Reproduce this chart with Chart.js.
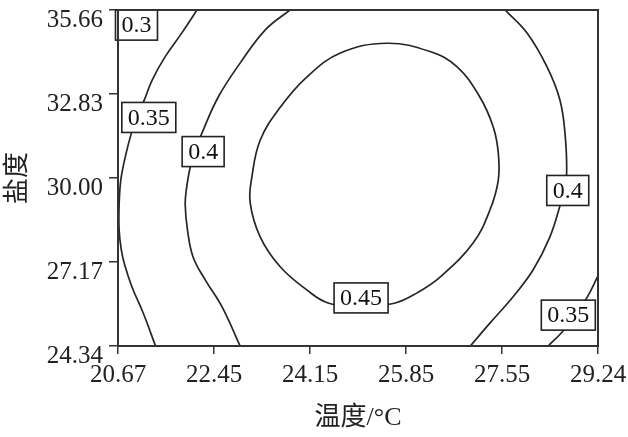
<!DOCTYPE html>
<html>
<head>
<meta charset="utf-8">
<script src="https://cdn.jsdelivr.net/npm/chart.js@4/dist/chart.umd.min.js"></script>
<style>
  html, body { margin: 0; padding: 0; background: #fff; }
  #wrap { width: 628px; height: 437px; }
</style>
</head>
<body>
<div id="wrap"><canvas id="c" width="628" height="437"></canvas></div>
<script>
// Axis ranges and tick labels
const X_MIN = 20.67, X_MAX = 29.24;
const Y_MIN = 24.34, Y_MAX = 35.66;
const xTickLabels = ['20.67', '22.45', '24.15', '25.85', '27.55', '29.24'];
const yTickLabels = ['24.34', '27.17', '30.00', '32.83', '35.66'];

// Contour lines: [temperature, salinity] pairs
const contour030 = [[20.67, 34.92], [20.85, 35.32], [21.01, 35.66]];
const contour035Left = [
  [22.08, 35.66], [21.81, 34.89], [21.51, 34.08], [21.28, 33.30], [21.14, 32.63],
  [21.01, 32.06], [20.91, 31.52], [20.80, 30.71], [20.72, 29.93], [20.69, 29.09],
  [20.69, 28.25], [20.73, 27.57], [20.79, 27.07], [20.92, 26.33], [21.12, 25.45],
  [21.34, 24.34]
];
const contour035Right = [[29.24, 26.70], [29.04, 25.96], [28.83, 25.38], [28.60, 24.81], [28.35, 24.34]];
const contour040Left = [
  [23.74, 35.66], [23.30, 34.99], [22.85, 33.87], [22.46, 32.73], [22.17, 31.52],
  [22.05, 30.94], [21.96, 30.37], [21.89, 29.60], [21.87, 29.09], [21.91, 28.25],
  [22.01, 27.34], [22.23, 26.56], [22.53, 25.65], [22.85, 24.34]
];
const contour040Right = [
  [27.58, 35.66], [27.97, 34.89], [28.33, 33.74], [28.56, 32.63], [28.65, 31.52],
  [28.68, 30.17], [28.63, 29.60], [28.56, 29.06], [28.38, 28.01], [28.08, 26.90],
  [27.72, 25.99], [27.31, 25.11], [26.96, 24.34]
];
const contour045 = [
  [25.01, 25.65], [25.62, 25.79], [26.01, 26.13], [26.42, 26.66], [27.01, 27.81],
  [27.31, 28.92], [27.46, 29.93], [27.46, 30.84], [27.37, 31.72], [27.13, 32.73],
  [26.72, 33.75], [26.24, 34.26], [25.47, 34.54], [24.64, 34.21], [24.04, 33.40],
  [23.57, 32.39], [23.21, 31.28], [23.06, 30.03], [23.03, 29.16], [23.21, 28.01],
  [23.57, 27.00], [24.04, 26.23], [24.42, 25.79], [25.01, 25.65]
];

// Contour level labels and where they sit
const levelText = ['0.3', '0.35', '0.4', '0.45', '0.4', '0.35'];
const levelX = [21.00, 21.22, 22.19, 25.01, 28.70, 28.71];
const levelY = [35.15, 32.04, 30.89, 25.96, 29.58, 25.38];

const SERIF = "'Liberation Serif', 'Noto Sans CJK SC', serif";
const LINE = '#262626';

const toXY = arr => arr.map(p => ({ x: p[0], y: p[1] }));
const contourSet = (data) => ({
  data: toXY(data),
  showLine: true,
  borderColor: LINE,
  borderWidth: 1.7,
  pointRadius: 0,
  tension: 0.4,
  fill: false
});

// Frame around the plot area
const framePlugin = {
  id: 'frame',
  afterDraw(chart) {
    const { ctx, chartArea: a } = chart;
    ctx.save();
    ctx.strokeStyle = '#333';
    ctx.lineWidth = 2;
    ctx.strokeRect(a.left, a.top, a.right - a.left, a.bottom - a.top);
    ctx.restore();
  }
};

// Boxed level labels placed on the contour lines
const levelLabelPlugin = {
  id: 'levelLabels',
  afterDatasetsDraw(chart) {
    const { ctx, scales: { x, y } } = chart;
    ctx.save();
    ctx.font = '24px ' + SERIF;
    ctx.textAlign = 'center';
    ctx.textBaseline = 'middle';
    levelText.forEach((t, i) => {
      const cx = x.getPixelForValue(levelX[i]);
      const cy = y.getPixelForValue(levelY[i]);
      const w = ctx.measureText(t).width + 12;
      const h = 30;
      ctx.fillStyle = '#fff';
      ctx.fillRect(cx - w / 2, cy - h / 2, w, h);
      ctx.strokeStyle = '#222';
      ctx.lineWidth = 1.6;
      ctx.strokeRect(cx - w / 2, cy - h / 2, w, h);
      ctx.fillStyle = '#111';
      ctx.fillText(t, cx, cy + 1);
    });
    ctx.restore();
  }
};

new Chart(document.getElementById('c'), {
  type: 'scatter',
  data: {
    datasets: [
      contourSet(contour030),
      contourSet(contour035Left),
      contourSet(contour035Right),
      contourSet(contour040Left),
      contourSet(contour040Right),
      contourSet(contour045)
    ]
  },
  options: {
    responsive: false,
    animation: false,
    layout: { padding: { top: 10, right: 30, bottom: 0, left: 0 } },
    plugins: { legend: { display: false }, tooltip: { enabled: false } },
    scales: {
      x: {
        type: 'linear',
        min: X_MIN,
        max: X_MAX,
        afterBuildTicks(scale) {
          const n = xTickLabels.length - 1;
          scale.ticks = xTickLabels.map((_, i) => ({ value: X_MIN + i * (X_MAX - X_MIN) / n }));
        },
        afterFit(scale) {
          scale.height = 91;
          scale.paddingLeft = 0;
          scale.paddingRight = 0;
        },
        grid: { drawOnChartArea: false, drawTicks: true, tickLength: 8, color: '#333', lineWidth: 1.5 },
        border: { display: true, color: '#333', width: 2 },
        ticks: {
          color: '#222',
          font: { family: SERIF, size: 25 },
          padding: 6,
          maxRotation: 0,
          autoSkip: false,
          callback: (v, i) => xTickLabels[i]
        },
        title: {
          display: true,
          text: '温度/°C',
          color: '#222',
          font: { family: SERIF, size: 26 },
          padding: { top: 0, bottom: 3 }
        }
      },
      y: {
        type: 'linear',
        min: Y_MIN,
        max: Y_MAX,
        afterBuildTicks(scale) {
          scale.ticks = yTickLabels.map(s => ({ value: parseFloat(s) }));
        },
        afterFit(scale) {
          scale.width = 118;
          scale.paddingTop = 0;
          scale.paddingBottom = 0;
        },
        grid: { drawOnChartArea: false, drawTicks: true, tickLength: 9, color: '#333', lineWidth: 1.5 },
        border: { display: true, color: '#333', width: 2 },
        ticks: {
          color: '#222',
          font: { family: SERIF, size: 25 },
          padding: 6,
          labelOffset: 10,
          autoSkip: false,
          callback: (v, i) => yTickLabels[i]
        },
        title: {
          display: true,
          text: '盐度',
          color: '#222',
          font: { family: SERIF, size: 26 },
          padding: { top: 3, bottom: 0 }
        }
      }
    }
  },
  plugins: [framePlugin, levelLabelPlugin]
});
</script>
</body>
</html>
